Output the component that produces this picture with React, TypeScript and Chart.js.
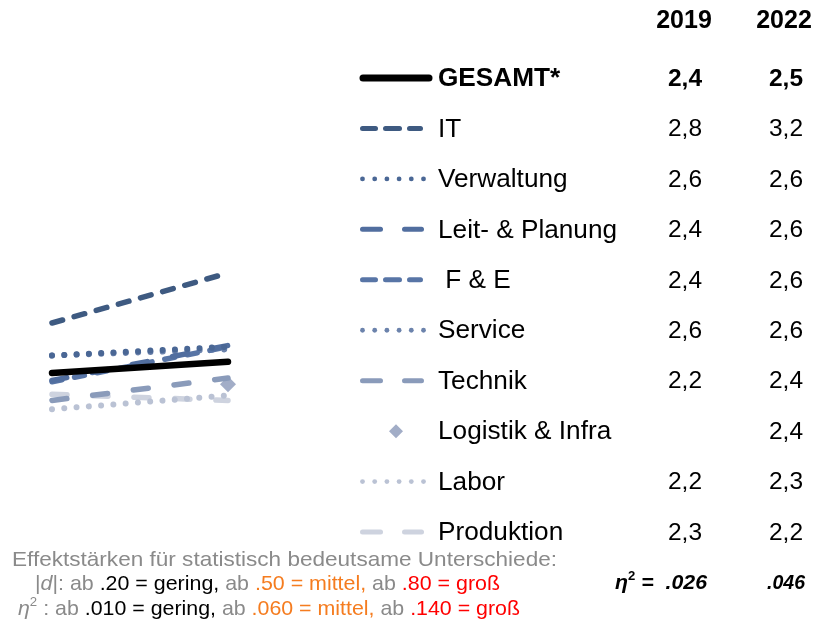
import React, { useEffect, useRef } from 'react';
import { Chart, registerables } from 'chart.js';

Chart.register(...registerables);

const years = ['2019', '2022'];
const seriesNames = ['GESAMT*', 'IT', 'Verwaltung', 'Leit- & Planung', ' F & E', 'Service', 'Technik', 'Logistik & Infra', 'Labor', 'Produktion'];

const gesamt = [2.40, 2.49];
const it = [2.80, 3.20];
const verwaltung = [2.54, 2.61];
const leitPlanung = [2.34, 2.62];
const fue = [2.33, 2.61];
const service = [2.54, 2.59];
const technik = [2.18, 2.36];
const logistik = [null, 2.31];
const labor = [2.11, 2.22];
const produktion = [2.23, 2.18];

const table2019 = ['2,4', '2,8', '2,6', '2,4', '2,4', '2,6', '2,2', '', '2,2', '2,3'];
const table2022 = ['2,5', '3,2', '2,6', '2,6', '2,6', '2,6', '2,4', '2,4', '2,3', '2,2'];
const etaValues = ['.026', '.046'];

const colors = ['#000000', '#3e5a81', '#4a6795', '#516e9f', '#5875a6', '#6c83ac', '#8a9bba', '#a2adc7', '#bac2d4', '#ced3df'];
const kinds = ['solid', 'dash3', 'dots', 'dash2', 'dash3', 'dots', 'dash2', 'diamond', 'dots', 'dash2'];

const FONT = '"Liberation Sans", Arial, sans-serif';

type Run = { t: string; c: string; f?: string; s?: number; dy?: number };

function drawRuns(ctx: CanvasRenderingContext2D, runs: Run[], x: number, y: number, targetW: number, size: number) {
  const fontOf = (r: Run) => (r.f ? r.f + ' ' : '') + (r.s || size) + 'px ' + FONT;
  let total = 0;
  for (const r of runs) {
    ctx.font = fontOf(r);
    total += ctx.measureText(r.t).width;
  }
  const sx = targetW / total;
  ctx.save();
  ctx.translate(x, y);
  ctx.scale(sx, 1);
  let cx = 0;
  ctx.textAlign = 'left';
  ctx.textBaseline = 'alphabetic';
  for (const r of runs) {
    ctx.font = fontOf(r);
    ctx.fillStyle = r.c;
    ctx.fillText(r.t, cx, r.dy || 0);
    cx += ctx.measureText(r.t).width;
  }
  ctx.restore();
}

const tablePlugin = {
  id: 'tablePlugin',
  afterDraw(chart: any) {
    const ctx: CanvasRenderingContext2D = chart.ctx;
    ctx.save();
    ctx.fillStyle = '#000';
    ctx.textBaseline = 'middle';
    ctx.textAlign = 'center';
    ctx.font = 'bold 25px ' + FONT;
    ctx.fillText(years[0], 684, 21);
    ctx.fillText(years[1], 784, 21);

    const rowY0 = 78;
    const rowStep = 50.45;
    for (let i = 0; i < seriesNames.length; i++) {
      const y = rowY0 + i * rowStep;
      const col = colors[i];
      const kind = kinds[i];
      ctx.strokeStyle = col;
      ctx.fillStyle = col;
      ctx.lineCap = 'round';
      if (kind === 'solid') {
        ctx.lineWidth = 7;
        ctx.beginPath();
        ctx.moveTo(363, y);
        ctx.lineTo(429, y);
        ctx.stroke();
      } else if (kind === 'dash3') {
        ctx.lineWidth = 5;
        const segs = [[360, 378], [383, 402], [407, 423]];
        for (const s of segs) {
          ctx.beginPath();
          ctx.moveTo(s[0] + 2.5, y);
          ctx.lineTo(s[1] - 2.5, y);
          ctx.stroke();
        }
      } else if (kind === 'dash2') {
        ctx.lineWidth = 5;
        const segs = [[360, 383], [402, 424]];
        for (const s of segs) {
          ctx.beginPath();
          ctx.moveTo(s[0] + 2.5, y);
          ctx.lineTo(s[1] - 2.5, y);
          ctx.stroke();
        }
      } else if (kind === 'dots') {
        for (let k = 0; k < 6; k++) {
          ctx.beginPath();
          ctx.arc(362.5 + k * 12.2, y, 2.4, 0, Math.PI * 2);
          ctx.fill();
        }
      } else if (kind === 'diamond') {
        ctx.beginPath();
        ctx.moveTo(396, y - 7);
        ctx.lineTo(403, y);
        ctx.lineTo(396, y + 7);
        ctx.lineTo(389, y);
        ctx.closePath();
        ctx.fill();
      }
      ctx.fillStyle = '#000';
      ctx.textAlign = 'left';
      ctx.font = (i === 0 ? 'bold ' : '') + '26.2px ' + FONT;
      ctx.fillText(seriesNames[i], 438, y + 1);
      ctx.textAlign = 'center';
      ctx.font = (i === 0 ? 'bold ' : '') + '24.5px ' + FONT;
      if (table2019[i]) ctx.fillText(table2019[i], 685, y + 1);
      if (table2022[i]) ctx.fillText(table2022[i], 786, y + 1);
    }

    const gray = '#8a8a8a';
    const orange = '#f57c1f';
    const red = '#ff0000';
    drawRuns(ctx, [{ t: 'Effektstärken für statistisch bedeutsame Unterschiede:', c: gray }], 12, 566, 545, 21);
    drawRuns(ctx, [
      { t: '|', c: gray },
      { t: 'd', c: gray, f: 'italic' },
      { t: '|: ab ', c: gray },
      { t: '.20 = gering,', c: '#000' },
      { t: ' ab ', c: gray },
      { t: '.50 = mittel,', c: orange },
      { t: ' ab ', c: gray },
      { t: '.80 = groß', c: red },
    ], 35, 590, 465, 21);
    drawRuns(ctx, [
      { t: 'η', c: gray, f: 'italic' },
      { t: '2', c: gray, s: 13, dy: -9 },
      { t: ' : ab ', c: gray },
      { t: '.010 = gering,', c: '#000' },
      { t: ' ab ', c: gray },
      { t: '.060 = mittel,', c: orange },
      { t: ' ab ', c: gray },
      { t: '.140 = groß', c: red },
    ], 18, 615, 502, 21);

    drawRuns(ctx, [
      { t: 'η', c: '#000', f: 'italic bold' },
      { t: '2', c: '#000', f: 'bold', s: 12, dy: -9 },
      { t: ' =  ' + etaValues[0], c: '#000', f: 'italic bold' },
    ], 615, 589, 92, 19.5);
    drawRuns(ctx, [{ t: etaValues[1], c: '#000', f: 'italic bold' }], 767, 589, 38, 19.5);
    ctx.restore();
  },
};

export default function App() {
  const ref = useRef<HTMLCanvasElement | null>(null);
  useEffect(() => {
    if (!ref.current) return;
    const mk = (label: string, data: (number | null)[], color: string, width: number, dash: number[]) => ({
      label,
      data,
      borderColor: color,
      backgroundColor: color,
      borderWidth: width,
      borderDash: dash,
      borderCapStyle: 'round' as const,
      pointRadius: 0,
      fill: false,
      tension: 0,
      clip: false as any,
    });
    const chart = new Chart(ref.current, {
      type: 'line',
      data: {
        labels: years,
        datasets: [
          mk(seriesNames[0], gesamt, colors[0], 6.5, []),
          mk(seriesNames[1], it, colors[1], 5.5, [11, 12]),
          mk(seriesNames[2], verwaltung, colors[2], 6, [0.01, 12.3]),
          mk(seriesNames[3], leitPlanung, colors[3], 5.5, [15, 26]),
          mk(seriesNames[4], fue, colors[4], 5.5, [10, 13]),
          mk(seriesNames[5], service, colors[5], 6, [0.01, 12.3]),
          mk(seriesNames[6], technik, colors[6], 5.5, [15, 26]),
          {
            label: seriesNames[7],
            data: logistik,
            borderColor: colors[7],
            backgroundColor: colors[7],
            showLine: false,
            pointStyle: 'rectRot',
            pointRadius: 8,
            pointBorderWidth: 0,
            clip: false as any,
          },
          mk(seriesNames[8], labor, colors[8], 6, [0.01, 12.3]),
          mk(seriesNames[9], produktion, colors[9], 5.5, [15, 26]),
        ] as any,
      },
      options: {
        responsive: false,
        animation: false,
        layout: { padding: { left: 52, right: 589, top: 248, bottom: 183.5 } },
        plugins: { legend: { display: false }, tooltip: { enabled: false }, title: { display: false } },
        scales: {
          x: { display: false, offset: false },
          y: { display: false, min: 1.9, max: 3.4 },
        },
      },
      plugins: [tablePlugin],
    });
    return () => chart.destroy();
  }, []);
  return (
    <canvas
      ref={ref}
      width={817}
      height={619}
      style={{ position: 'absolute', left: 0, top: 0, width: 817, height: 619, background: '#fff' }}
    />
  );
}
